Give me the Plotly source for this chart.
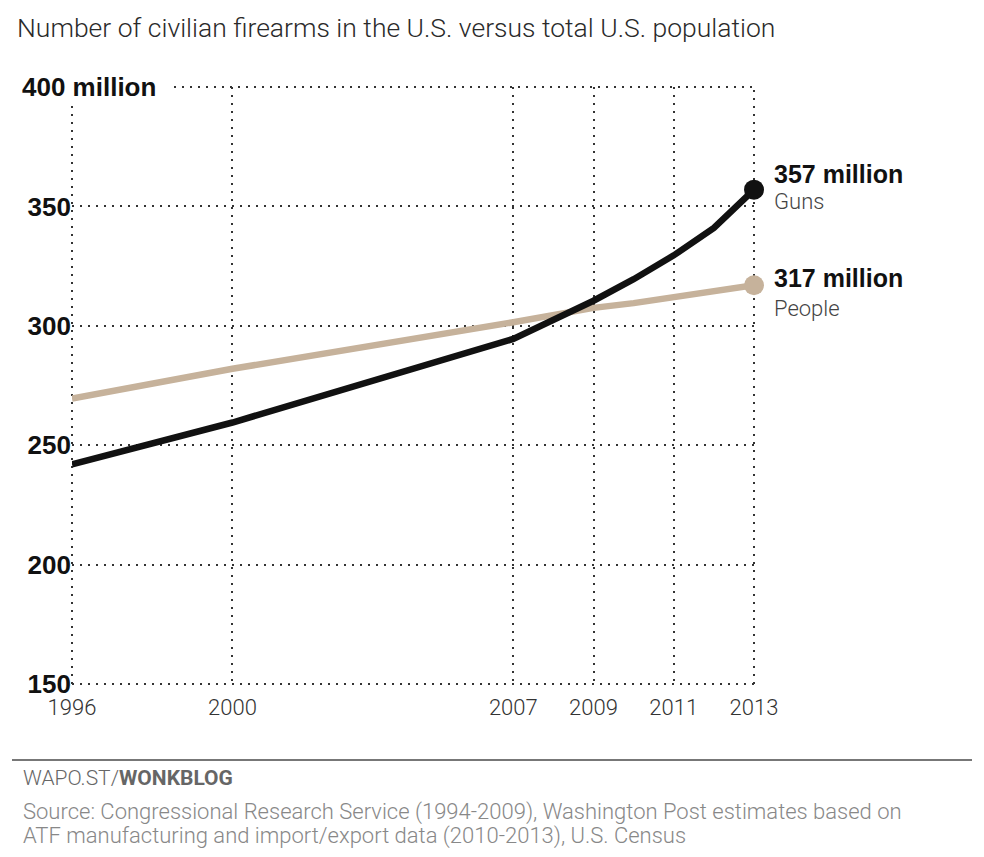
import plotly.graph_objects as go

# data (millions)
years = [1996, 2000, 2007, 2009, 2010, 2011, 2012, 2013]
guns = [242, 259.5, 294.5, 310.5, 319.5, 329.5, 341, 357]
people = [269.5, 282, 301.5, 307.5, 309.5, 312, 314.5, 317]

x_ticks = [1996, 2000, 2007, 2009, 2011, 2013]
y_ticks = [150, 200, 250, 300, 350, 400]
y_labels = ["150", "200", "250", "300", "350", ""]

BLACK = "#111111"
TAN = "#c6b29b"
GRID = "#333333"
DOTS = "2px,6px"
LIGHT = "Roboto"
BOLD = "Liberation Sans"

# page is drawn with an 8px body margin, so the figure is 976x849
W, H = 976, 849
ML, MT, PW, PH = 64, 79, 682, 597


def px(x_page):
    return (x_page - 8 - ML) / PW


def py(y_page):
    return (MT + PH + 8 - y_page) / PH


fig = go.Figure()

fig.add_trace(go.Scatter(x=years, y=people, mode="lines", name="People",
                         line=dict(color=TAN, width=6.5), cliponaxis=False))
fig.add_trace(go.Scatter(x=years, y=guns, mode="lines", name="Guns",
                         line=dict(color=BLACK, width=6.5), cliponaxis=False))

# end dots
fig.add_trace(go.Scatter(x=years[-1:], y=people[-1:], mode="markers",
                         marker=dict(color=TAN, size=20), cliponaxis=False))
fig.add_trace(go.Scatter(x=years[-1:], y=guns[-1:], mode="markers",
                         marker=dict(color=BLACK, size=20), cliponaxis=False))

# end labels: (value, bold text, sub text, shift of bold line, shift of sub line)
end_labels = [
    (guns[-1], "%d million" % guns[-1], "Guns", 16, -12),
    (people[-1], "%d million" % people[-1], "People", 7, -23),
]
for val, top, bottom, s1, s2 in end_labels:
    fig.add_annotation(x=years[-1], y=val, xref="x", yref="y", text=top,
                       showarrow=False, xanchor="left", yanchor="middle",
                       xshift=18, yshift=s1,
                       font=dict(family=BOLD, size=25, color=BLACK, weight="bold"))
    fig.add_annotation(x=years[-1], y=val, xref="x", yref="y", text=bottom,
                       showarrow=False, xanchor="left", yanchor="middle",
                       xshift=18, yshift=s2,
                       font=dict(family=LIGHT, size=22, color="#444444", weight=300))

# top-left unit label
fig.add_annotation(x=px(20), xref="paper", xanchor="left",
                   y=400, yref="y", yanchor="middle",
                   text="400 million", showarrow=False,
                   font=dict(family=BOLD, size=26, color=BLACK, weight="bold"))

# edge gridlines that plotly leaves out
edge_lines = [
    dict(x0=px(174), x1=1, y0=1, y1=1),
    dict(x0=0, x1=1, y0=0, y1=0),
    dict(x0=0, x1=0, y0=0, y1=py(105)),
    dict(x0=1, x1=1, y0=0, y1=1),
]
for e in edge_lines:
    fig.add_shape(type="line", xref="paper", yref="paper", layer="below",
                  line=dict(color=GRID, width=2, dash=DOTS), **e)

fig.update_layout(
    width=W, height=H,
    margin=dict(l=ML, r=W - ML - PW, t=MT, b=H - MT - PH),
    paper_bgcolor="white", plot_bgcolor="white",
    showlegend=False,
    title=dict(text="Number of civilian firearms in the U.S. versus total U.S. population",
               x=9 / W, xanchor="left", y=1 - 20 / H, yanchor="middle",
               font=dict(family=LIGHT, size=26.5, color="#2a2a2a", weight=300)),
    xaxis=dict(range=[1996, 2013], tickvals=x_ticks, ticktext=[str(v) for v in x_ticks],
               showgrid=True, gridcolor=GRID, griddash=DOTS, gridwidth=2,
               zeroline=False, showline=False, ticks="", ticklabelstandoff=8,
               tickfont=dict(family=LIGHT, size=22, color="#333333", weight=300)),
    yaxis=dict(range=[150, 400], tickvals=y_ticks, ticktext=y_labels,
               showgrid=True, gridcolor=GRID, griddash=DOTS, gridwidth=2,
               zeroline=False, showline=False, ticks="", ticklabelstandoff=0,
               tickfont=dict(family=BOLD, size=26, color=BLACK, weight="bold")),
)

# footer rule and credits
fig.add_shape(type="line", xref="paper", yref="paper", x0=px(12), x1=px(972),
              y0=py(760), y1=py(760), line=dict(color="#777777", width=2))
fig.add_annotation(x=px(21), y=py(778), xref="paper", yref="paper",
                   xanchor="left", yanchor="middle", showarrow=False,
                   text="WAPO.ST/<b>WONKBLOG</b>",
                   font=dict(family=LIGHT, size=21, color="#666666", weight=300))
source_lines = [
    "Source: Congressional Research Service (1994-2009), Washington Post estimates based on",
    "ATF manufacturing and import/export data (2010-2013), U.S. Census",
]
for i, line in enumerate(source_lines):
    fig.add_annotation(x=px(21), y=py(812 + 24 * i), xref="paper", yref="paper",
                       xanchor="left", yanchor="middle", showarrow=False,
                       text=line,
                       font=dict(family=LIGHT, size=22, color="#888888", weight=300))

fig.write_html("out.html")
